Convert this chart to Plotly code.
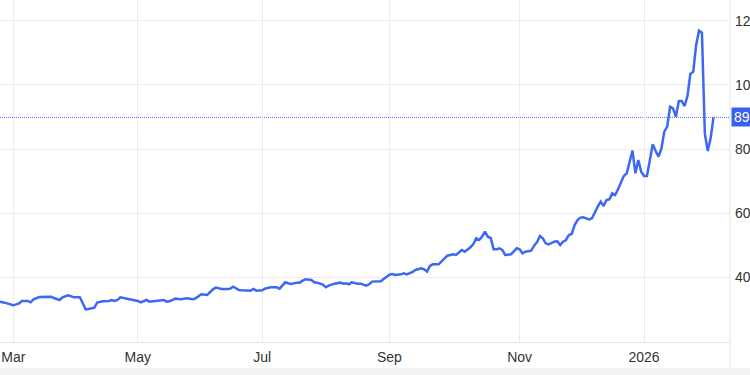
import plotly.graph_objects as go

dates = [
    "2025-02-24", "2025-02-26", "2025-03-03", "2025-03-05", "2025-03-06", "2025-03-10",
    "2025-03-11", "2025-03-12", "2025-03-14", "2025-03-18", "2025-03-20", "2025-03-21",
    "2025-03-25", "2025-03-26", "2025-03-28", "2025-04-01", "2025-04-03", "2025-04-04",
    "2025-04-07", "2025-04-08", "2025-04-10", "2025-04-11", "2025-04-15", "2025-04-17",
    "2025-04-18", "2025-04-21", "2025-04-22", "2025-04-23", "2025-04-25", "2025-04-29",
    "2025-05-01", "2025-05-02", "2025-05-06", "2025-05-07", "2025-05-09", "2025-05-13",
    "2025-05-14", "2025-05-15", "2025-05-16", "2025-05-20", "2025-05-22", "2025-05-26",
    "2025-05-28", "2025-05-29", "2025-06-02", "2025-06-04", "2025-06-05", "2025-06-06",
    "2025-06-09", "2025-06-11", "2025-06-13", "2025-06-16", "2025-06-17", "2025-06-18",
    "2025-06-19", "2025-06-20", "2025-06-24", "2025-06-25", "2025-06-26", "2025-06-27",
    "2025-07-01", "2025-07-02", "2025-07-04", "2025-07-08", "2025-07-09", "2025-07-11",
    "2025-07-14", "2025-07-15", "2025-07-17", "2025-07-18", "2025-07-21", "2025-07-22",
    "2025-07-24", "2025-07-25", "2025-07-28", "2025-07-30", "2025-07-31", "2025-08-01",
    "2025-08-05", "2025-08-07", "2025-08-08", "2025-08-11", "2025-08-12", "2025-08-13",
    "2025-08-15", "2025-08-18", "2025-08-20", "2025-08-21", "2025-08-22", "2025-08-26",
    "2025-08-27", "2025-08-28", "2025-08-29", "2025-09-01", "2025-09-02", "2025-09-03",
    "2025-09-05", "2025-09-08", "2025-09-09", "2025-09-10", "2025-09-11", "2025-09-12",
    "2025-09-16", "2025-09-17", "2025-09-18", "2025-09-19", "2025-09-22", "2025-09-24",
    "2025-09-25", "2025-09-26", "2025-09-29", "2025-09-30", "2025-10-01", "2025-10-02",
    "2025-10-03", "2025-10-06", "2025-10-07", "2025-10-08", "2025-10-09", "2025-10-10",
    "2025-10-13", "2025-10-14", "2025-10-15", "2025-10-16", "2025-10-17", "2025-10-20",
    "2025-10-21", "2025-10-22", "2025-10-23", "2025-10-24", "2025-10-27", "2025-10-29",
    "2025-10-30", "2025-10-31", "2025-11-03", "2025-11-04", "2025-11-05", "2025-11-07",
    "2025-11-10", "2025-11-11", "2025-11-12", "2025-11-13", "2025-11-14", "2025-11-17",
    "2025-11-19", "2025-11-20", "2025-11-21", "2025-11-24", "2025-11-25", "2025-11-26",
    "2025-11-27", "2025-11-28", "2025-12-01", "2025-12-02", "2025-12-03", "2025-12-04",
    "2025-12-05", "2025-12-08", "2025-12-09", "2025-12-10", "2025-12-11", "2025-12-12",
    "2025-12-15", "2025-12-16", "2025-12-17", "2025-12-18", "2025-12-19", "2025-12-22",
    "2025-12-23", "2025-12-24", "2025-12-25", "2025-12-26", "2025-12-29", "2025-12-30",
    "2025-12-31", "2026-01-01", "2026-01-02", "2026-01-05", "2026-01-06", "2026-01-07",
    "2026-01-08", "2026-01-09", "2026-01-12", "2026-01-13", "2026-01-14", "2026-01-15",
    "2026-01-16", "2026-01-19", "2026-01-20", "2026-01-21", "2026-01-22", "2026-01-23",
    "2026-01-26", "2026-01-27", "2026-01-28", "2026-01-29", "2026-01-30", "2026-02-02",
    "2026-02-03", "2026-02-04",
]

prices = [
    32.47, 32.16, 31.33, 31.95, 32.68, 32.68,
    32.26, 33.20, 33.92, 33.92, 34.03, 33.61,
    32.99, 33.82, 34.44, 33.82, 33.82, 31.95,
    30.08, 30.19, 30.60, 32.16, 32.58, 32.68,
    32.99, 32.68, 32.99, 33.82, 33.51, 33.20,
    32.68, 32.26, 32.99, 32.47, 32.68, 32.68,
    32.99, 32.47, 32.58, 33.41, 33.20, 33.51,
    33.20, 33.51, 34.76, 34.55, 35.49, 36.32,
    36.84, 36.42, 36.42, 36.53, 37.15, 36.63,
    36.11, 36.01, 36.01, 35.90, 36.42, 35.90,
    36.01, 36.53, 36.94, 36.94, 36.53, 38.50,
    38.19, 37.98, 38.39, 38.39, 39.02, 39.43,
    39.23, 38.50, 38.39, 37.77, 36.94, 37.46,
    38.08, 38.39, 38.08, 38.19, 37.88, 38.50,
    38.08, 38.08, 37.46, 37.88, 38.71, 38.71,
    38.81, 39.54, 40.26, 40.88, 41.09, 40.78,
    40.99, 41.30, 40.99, 41.30, 41.71, 42.34,
    42.86, 42.55, 41.82, 43.58, 44.10, 44.10,
    44.93, 45.97, 46.80, 47.01, 47.22, 47.01,
    47.94, 48.57, 48.05, 48.77, 49.40, 50.44,
    52.20, 51.68, 52.72, 54.28, 52.72, 52.30,
    48.77, 48.77, 49.09, 48.57, 47.01, 47.22,
    48.05, 49.09, 48.77, 47.53, 48.05, 48.36,
    49.90, 51.00, 52.93, 52.20, 50.64, 50.33,
    51.16, 51.30, 50.12, 51.16, 51.68, 53.24,
    53.55, 56.35, 57.90, 58.64, 58.75, 58.33,
    58.12, 58.44, 60.51, 62.07, 63.63, 62.28,
    64.15, 64.35, 66.22, 65.70, 67.47, 69.86,
    71.62, 72.45, 76.00, 79.51, 72.45, 76.61,
    72.97, 71.62, 71.62, 76.30, 81.50, 79.40,
    77.64, 80.24, 85.43, 86.98, 93.21, 92.69,
    90.10, 94.98, 94.98, 93.42, 96.54, 103.39,
    104.12, 112.42, 116.89, 116.26, 84.91, 79.41,
    83.35, 89.89,
]

x_tick_dates = ["2025-03-03", "2025-05-01", "2025-07-01", "2025-09-01", "2025-11-03", "2026-01-01"]
x_tick_labels = ["Mar", "May", "Jul", "Sep", "Nov", "2026"]
y_tick_values = [40, 60, 80, 100, 120]

LINE = "#3d68f2"
BOX = "#3b60ef"
GRID = "#ececec"
TEXT = "#333333"
FONT = "Liberation Sans, Arial, sans-serif"

last_value = prices[-1]

fig = go.Figure()
fig.add_trace(go.Scatter(
    x=dates, y=prices, mode="lines",
    line=dict(color=LINE, width=2.5),
    hoverinfo="skip", showlegend=False,
))

# last value dotted guide
fig.add_shape(type="line", xref="paper", yref="y", x0=0, x1=1,
              y0=last_value, y1=last_value,
              line=dict(color="#4a72f5", width=1, dash="1px,1px"),
              layer="below")

# right border extending down into label area
fig.add_shape(type="line", xref="paper", yref="paper", x0=1, x1=1, y0=-0.076, y1=1,
              line=dict(color="#e6e6e6", width=1), layer="above")
# bottom grey band
fig.add_shape(type="rect", xref="paper", yref="paper", x0=-0.01, x1=1.05, y0=-0.12, y1=-0.077,
              fillcolor="#f2f2f2", line=dict(width=0), layer="above")

fig.add_annotation(
    xref="paper", yref="y", x=1, y=last_value, xanchor="left", yanchor="middle",
    text=f"{last_value:.2f}", showarrow=False,
    font=dict(family=FONT, size=14, color="white"),
    bgcolor=BOX, borderpad=2, xshift=1, align="left",
    width=40, height=14,
)

fig.update_layout(
    width=750, height=375,
    margin=dict(l=0, r=20, t=0, b=33, autoexpand=False),
    paper_bgcolor="white", plot_bgcolor="white",
    font=dict(family=FONT, size=14, color=TEXT),
    showlegend=False,
    xaxis=dict(
        type="date",
        range=["2025-02-24 09:36", "2026-02-11 16:48"],
        rangebreaks=[dict(bounds=["sat", "mon"])],
        tickmode="array", tickvals=x_tick_dates, ticktext=x_tick_labels,
        showgrid=True, gridcolor=GRID, gridwidth=1,
        showline=True, linecolor="#e6e6e6", linewidth=1,
        ticks="", zeroline=False, ticklabelstandoff=2,
        tickfont=dict(family=FONT, size=14, color=TEXT),
    ),
    yaxis=dict(
        side="right", range=[19.9, 126.45],
        tickmode="array", tickvals=y_tick_values,
        showgrid=True, gridcolor=GRID, gridwidth=1,
        ticks="", zeroline=False, showline=False, ticklabelstandoff=4,
        tickfont=dict(family=FONT, size=14, color=TEXT),
    ),
)

fig.write_html("out.html")
